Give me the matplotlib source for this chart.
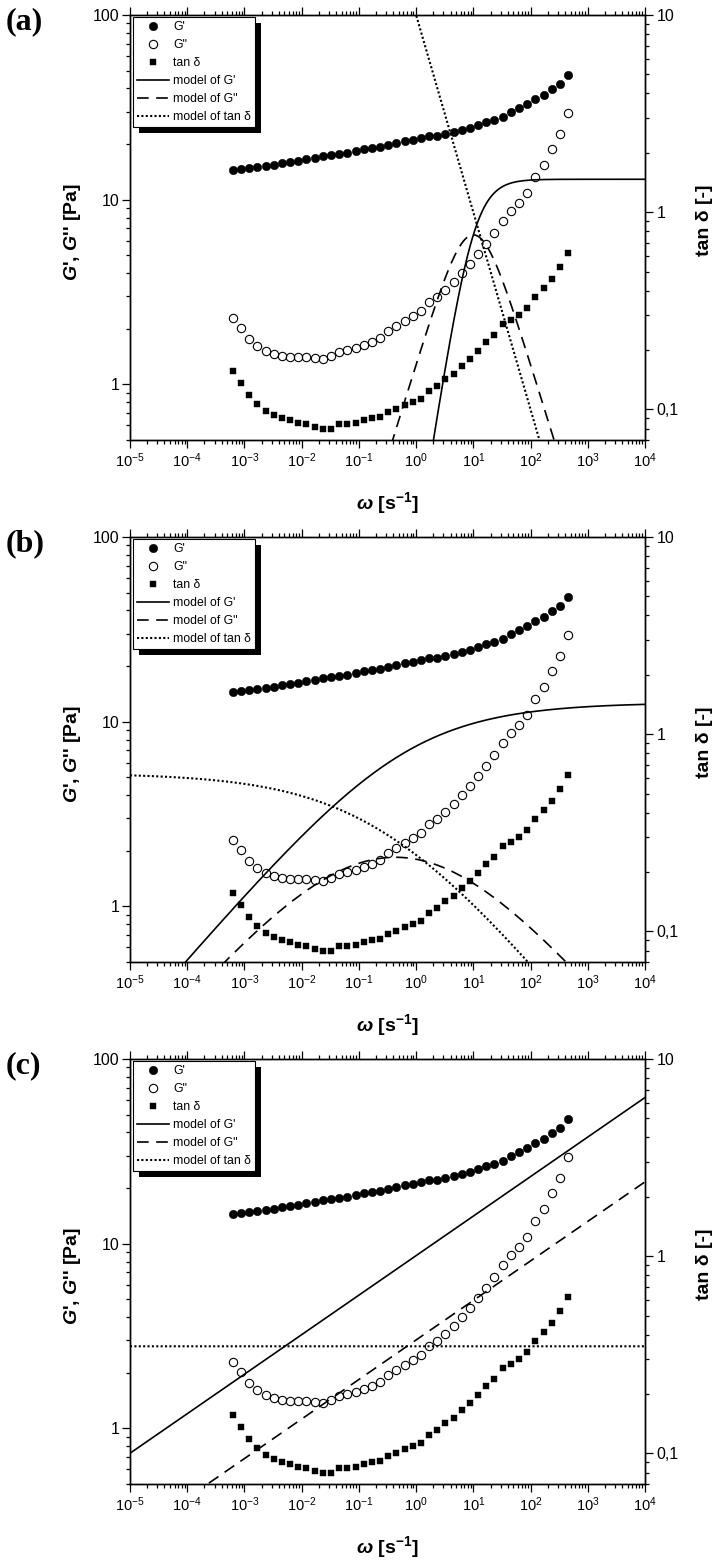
import numpy as np
import matplotlib
matplotlib.use('Agg')
import matplotlib.pyplot as plt
from matplotlib.ticker import LogLocator, FuncFormatter, NullFormatter, FixedLocator
from matplotlib.patches import Rectangle
from matplotlib.transforms import IdentityTransform

plt.rcParams['font.family'] = ['Liberation Sans', 'DejaVu Sans']
plt.rcParams['mathtext.fontset'] = 'custom'
plt.rcParams['mathtext.rm'] = 'Liberation Sans:bold'
plt.rcParams['mathtext.it'] = 'Liberation Sans:italic:bold'
plt.rcParams['mathtext.bf'] = 'Liberation Sans:bold'

# ---------------- data ----------------
omega = [6.28e-4, 8.73e-4, 1.21e-3, 1.69e-3, 2.34e-3, 3.25e-3, 4.52e-3,
         6.28e-3, 8.73e-3, 1.21e-2, 1.69e-2, 2.34e-2, 3.25e-2, 4.52e-2,
         6.28e-2, 8.73e-2, 0.121, 0.169, 0.234, 0.325, 0.452,
         0.628, 0.873, 1.21, 1.69, 2.34, 3.25, 4.52,
         6.28, 8.73, 12.1, 16.9, 23.4, 32.5, 45.2,
         62.8, 87.3, 121, 169, 234, 325, 452]

G_storage = [14.5, 14.7, 14.9, 15.1, 15.3, 15.5, 15.8, 16.0, 16.3, 16.6, 16.9,
             17.2, 17.4, 17.7, 18.0, 18.3, 18.7, 19.1, 19.4, 19.9, 20.2, 20.7,
             21.1, 21.6, 22.0, 22.2, 22.7, 23.3, 23.8, 24.4, 25.3, 26.3, 27.0,
             27.9, 29.7, 31.2, 33.0, 35.1, 36.7, 39.9, 42.5, 47.2]

G_loss = [2.29, 2.02, 1.77, 1.61, 1.51, 1.46, 1.43, 1.41, 1.41, 1.40, 1.39,
          1.38, 1.43, 1.49, 1.53, 1.57, 1.64, 1.70, 1.78, 1.94, 2.06, 2.20,
          2.34, 2.49, 2.79, 2.96, 3.23, 3.57, 4.01, 4.49, 5.11, 5.76, 6.61,
          7.71, 8.66, 9.60, 10.9, 13.2, 15.5, 18.8, 22.8, 29.5]

tan_delta = [0.157, 0.136, 0.118, 0.106, 0.098, 0.094, 0.090, 0.088, 0.085,
             0.084, 0.081, 0.080, 0.080, 0.084, 0.084, 0.085, 0.088, 0.090,
             0.092, 0.097, 0.101, 0.105, 0.109, 0.113, 0.124, 0.131, 0.142,
             0.151, 0.167, 0.181, 0.199, 0.220, 0.238, 0.271, 0.285, 0.302,
             0.327, 0.372, 0.413, 0.460, 0.529, 0.620]

panel_labels = ['(a)', '(b)', '(c)']

# model parameters: (a) Maxwell, (b) fractional Maxwell, (c) power-law gel
maxwell_G0 = [12.9, 12.7]
maxwell_lambda = [0.1, 2.3]
maxwell_alpha = [1.0, 0.36]
gel_S = 9.13
gel_n = 0.214

legend_labels = ["G'", "G''", "tan \u03b4", "model of G'", "model of G''",
                 "model of tan \u03b4"]
x_exponents = [-5, -4, -3, -2, -1, 0, 1, 2, 3, 4]
left_ticks = [1, 10, 100]
left_ticklabels = ['1', '10', '100']
right_ticks = [0.1, 1, 10]
right_ticklabels = ['0,1', '1', '10']

# ---------------- figure ----------------
W, H = 720, 1563
fig = plt.figure(figsize=(W / 100, H / 100), dpi=100)
left_px, right_px = 130, 645
tops = [15, 537, 1059]
ph = 425

w_grid = np.logspace(-5, 4, 1500)
legends = []

for i, top in enumerate(tops):
    ax = fig.add_axes([left_px / W, 1 - (top + ph) / H,
                       (right_px - left_px) / W, ph / H])
    ax2 = ax.twinx()
    ax.set_xscale('log')
    ax.set_yscale('log')
    ax2.set_yscale('log')

    if i < 2:
        z = (1j * w_grid * maxwell_lambda[i]) ** maxwell_alpha[i]
        Gc = maxwell_G0[i] * z / (1 + z)
    else:
        Gc = gel_S * (1j * w_grid) ** gel_n
    Gp_model = Gc.real
    Gpp_model = Gc.imag
    td_model = Gpp_model / Gp_model

    h1, = ax.plot(omega, G_storage, ls='none', marker='o', ms=6.0,
                  mfc='k', mec='k', mew=0.4, zorder=3)
    h2, = ax.plot(omega, G_loss, ls='none', marker='o', ms=6.0,
                  mfc='none', mec='k', mew=0.8, zorder=3)
    h4, = ax.plot(w_grid, Gp_model, color='k', lw=1.2, ls='-', zorder=2)
    h5, = ax.plot(w_grid, Gpp_model, color='k', lw=1.2,
                  ls=(0, (7.0, 4.5)), zorder=2)
    h3, = ax2.plot(omega, tan_delta, ls='none', marker='s', ms=4.9,
                   mfc='k', mec='k', mew=0.3, zorder=3)
    h6, = ax2.plot(w_grid, td_model, color='k', lw=1.5,
                   ls=(0, (1, 1.1)), zorder=2)

    ax.set_xlim(1e-5, 1e4)
    ax.set_ylim(0.5, 100)
    ax2.set_ylim(0.07, 10)

    # x ticks
    ax.xaxis.set_major_locator(FixedLocator([10.0 ** e for e in x_exponents]))
    ax.xaxis.set_minor_locator(LogLocator(base=10, subs=np.arange(2, 10), numticks=30))
    ax.xaxis.set_major_formatter(FuncFormatter(
        lambda v, p: r'$\mathregular{10^{%d}}$' % int(round(np.log10(v)))))
    ax.xaxis.set_minor_formatter(NullFormatter())

    # left y ticks
    ax.yaxis.set_major_locator(FixedLocator(left_ticks))
    ax.yaxis.set_major_formatter(FuncFormatter(
        lambda v, p: left_ticklabels[left_ticks.index(int(round(v)))]
        if int(round(v)) in left_ticks else ''))
    ax.yaxis.set_minor_locator(LogLocator(base=10, subs=np.arange(2, 10), numticks=30))
    ax.yaxis.set_minor_formatter(NullFormatter())

    # right y ticks
    ax2.yaxis.set_major_locator(FixedLocator(right_ticks))
    ax2.yaxis.set_major_formatter(FuncFormatter(
        lambda v, p: right_ticklabels[int(np.argmin([abs(np.log10(v) - np.log10(t)) for t in right_ticks]))]))
    ax2.yaxis.set_minor_locator(LogLocator(base=10, subs=np.arange(2, 10), numticks=30))
    ax2.yaxis.set_minor_formatter(NullFormatter())

    ax.tick_params(axis='x', which='both', direction='out', top=True,
                   bottom=True, labeltop=False, width=0.9)
    ax.tick_params(axis='x', which='major', length=5.5, labelsize=10.5, pad=3)
    ax.tick_params(axis='x', which='minor', length=3.0)
    ax.tick_params(axis='y', which='both', direction='out', left=True,
                   right=False, width=0.9)
    ax.tick_params(axis='y', which='major', length=5.5, labelsize=11.5, pad=2)
    ax.tick_params(axis='y', which='minor', length=3.0)
    ax2.tick_params(axis='y', which='both', direction='out', right=True,
                    left=False, width=0.9)
    ax2.tick_params(axis='y', which='major', length=5.5, labelsize=11.5, pad=3)
    ax2.tick_params(axis='y', which='minor', length=3.0)

    for s in list(ax.spines.values()) + list(ax2.spines.values()):
        s.set_linewidth(1.0)

    ax.set_xlabel(r'$\omega$ [s$^{-1}$]', fontsize=14, fontweight='bold')
    ax.xaxis.set_label_coords(0.5, -0.148)
    ax.xaxis.label.set_va('center')
    ax.set_ylabel(r"$G$', $G$'' [Pa]", fontsize=14, fontweight='bold')
    ax.yaxis.set_label_coords(-0.112, 0.49)
    ax.yaxis.label.set_va('center')
    ax2.set_ylabel('tan \u03b4 [-]', fontsize=14, fontweight='bold')
    ax2.yaxis.set_label_coords(1.1146, 0.518)
    ax2.yaxis.label.set_va('center')

    leg = ax2.legend([h1, h2, h3, h4, h5, h6], legend_labels,
                     loc='upper left', bbox_to_anchor=(0.006, 0.995),
                     borderaxespad=0, frameon=True, fancybox=False,
                     edgecolor='k', framealpha=1, fontsize=8.8,
                     handlelength=2.6, handletextpad=0.4, labelspacing=0.5,
                     borderpad=0.3, numpoints=1)
    leg.get_frame().set_linewidth(0.8)
    legends.append((ax2, leg))

    fig.text(6 / W, 1 - (top + 7) / H, panel_labels[i], fontsize=23,
             fontweight='bold', family=['Liberation Serif', 'DejaVu Serif'],
             ha='left', va='center')

fig.canvas.draw()
renderer = fig.canvas.get_renderer()
for ax2, leg in legends:
    bb = leg.get_window_extent(renderer)
    shadow = Rectangle((bb.x0 + 6, bb.y0 - 6), bb.width, bb.height,
                       transform=IdentityTransform(), facecolor='k',
                       edgecolor='none', zorder=leg.get_zorder() - 0.5,
                       clip_on=False)
    ax2.add_artist(shadow)

fig.savefig('out.png', dpi=100)
